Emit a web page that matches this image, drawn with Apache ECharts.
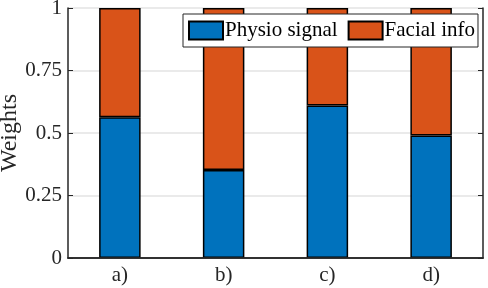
<!DOCTYPE html>
<html><head><meta charset="utf-8">
<script src="https://cdn.jsdelivr.net/npm/echarts@6/dist/echarts.min.js"></script>
<style>html,body{margin:0;padding:0;background:#fff}#c{width:488px;height:288px}</style>
</head><body><div id="c"></div>
<script>
const categories = ['a)', 'b)', 'c)', 'd)'];
const physioSignal = [0.563, 0.352, 0.61, 0.49];
const facialInfo = [0.437, 0.648, 0.39, 0.51];
const yTicks = [0, 0.25, 0.5, 0.75, 1];
const yTickLabels = ['0', '0.25', '0.5', '0.75', '1'];

const FONT = 'Liberation Serif';
const AX = '#262626';
const chart = echarts.init(document.getElementById('c'), null, {renderer: 'canvas'});
const labelFor = v => { const i = yTicks.indexOf(Math.round(v*100)/100); return i >= 0 ? yTickLabels[i] : ''; };
chart.setOption({
  animation: false,
  backgroundColor: '#fff',
  grid: {left: 68, right: 5, top: 8, bottom: 30, containLabel: false, outerBoundsMode: 'none'},
  legend: {
    left: 183, top: 14,
    padding: [6, 3, 6, 5],
    itemWidth: 34, itemHeight: 18, itemGap: 10,
    backgroundColor: '#fff',
    borderColor: AX, borderWidth: 1,
    icon: 'rect',
    textStyle: {fontFamily: FONT, fontSize: 21, color: '#000', padding: [0, 0, 0, -3]},
    data: ['Physio signal', 'Facial info']
  },
  xAxis: [{
    type: 'category', data: categories, position: 'bottom', z: 10,
    axisLine: {lineStyle: {color: AX, width: 1.5}},
    axisTick: {inside: true, alignWithLabel: true, length: 4, lineStyle: {color: AX}},
    axisLabel: {fontFamily: FONT, fontSize: 21, color: AX, margin: 7}
  }, {
    type: 'category', data: categories, position: 'top', z: 10,
    axisLine: {lineStyle: {color: AX, width: 1.5}},
    axisTick: {inside: true, alignWithLabel: true, length: 4, lineStyle: {color: AX}},
    axisLabel: {show: false}
  }],
  yAxis: [{
    type: 'value', min: 0, max: 1, interval: 0.25, position: 'left', z: 10,
    name: 'Weights', nameLocation: 'middle', nameGap: 46, nameMoveOverlap: false,
    nameTextStyle: {fontFamily: FONT, fontSize: 24, color: AX},
    axisLine: {show: true, lineStyle: {color: AX, width: 1.5}},
    axisTick: {show: true, inside: true, length: 5, lineStyle: {color: AX}},
    axisLabel: {fontFamily: FONT, fontSize: 21, color: AX, margin: 6, formatter: labelFor},
    splitLine: {show: false}
  }, {
    type: 'value', min: 0, max: 1, interval: 0.25, position: 'right', z: 0,
    axisLine: {show: true, lineStyle: {color: AX, width: 1.5}},
    axisTick: {show: true, inside: true, length: 5, lineStyle: {color: AX}},
    axisLabel: {show: false},
    splitLine: {show: true, lineStyle: {color: '#e3e3e3', width: 1.5}}
  }],
  series: [{
    name: 'Physio signal', type: 'bar', stack: 's', data: physioSignal, barWidth: '40%',
    itemStyle: {color: '#0072BD', borderColor: '#000', borderWidth: 1.5}
  }, {
    name: 'Facial info', type: 'bar', stack: 's', data: facialInfo, barWidth: '40%',
    itemStyle: {color: '#D95319', borderColor: '#000', borderWidth: 1.5}
  }]
});
</script></body></html>
